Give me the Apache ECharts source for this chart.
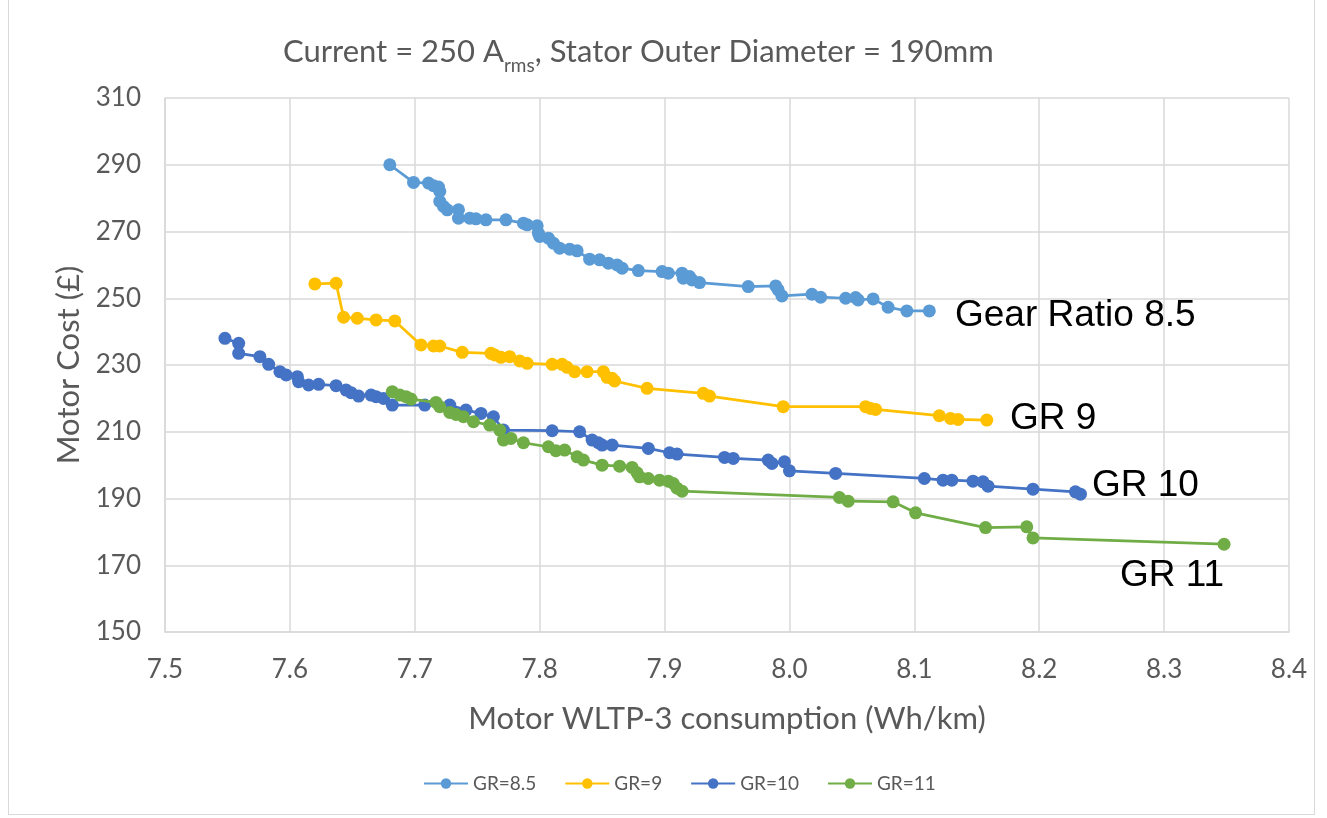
<!DOCTYPE html>
<html>
<head>
<meta charset="utf-8">
<script src="https://cdn.jsdelivr.net/npm/echarts@6/dist/echarts.min.js"></script>
<style>
  html, body { margin: 0; padding: 0; background: #ffffff; }
  #frame { position: absolute; left: 8px; top: -1px; width: 1307px; height: 816px; border: 1px solid #d9d9d9; box-sizing: border-box; }
  #chart { position: absolute; left: 0; top: 0; width: 1327px; height: 818px; }
</style>
</head>
<body>
<div id="frame"></div>
<div id="chart"></div>
<script>
// Motor WLTP-3 consumption (Wh/km) vs motor cost (£), one trace per gear ratio
const seriesNames = ['GR=8.5', 'GR=9', 'GR=10', 'GR=11'];
const xTicks = { min: 7.5, max: 8.4, step: 0.1 };
const yTicks = { min: 150, max: 310, step: 20 };

const gr85 = [
  [7.680, 290.0], [7.699, 284.7], [7.711, 284.5], [7.715, 283.7], [7.719, 283.3],
  [7.720, 282.0], [7.720, 279.0], [7.723, 277.5], [7.726, 276.5], [7.735, 276.5],
  [7.735, 274.0], [7.744, 274.0], [7.749, 273.8], [7.757, 273.5], [7.773, 273.5],
  [7.787, 272.5], [7.790, 272.0], [7.798, 271.7], [7.799, 269.5], [7.800, 268.5],
  [7.807, 268.0], [7.811, 266.5], [7.816, 265.0], [7.824, 264.7], [7.830, 264.2],
  [7.840, 261.7], [7.848, 261.5], [7.855, 260.5], [7.862, 260.0], [7.866, 259.0],
  [7.879, 258.3], [7.898, 258.0], [7.903, 257.5], [7.914, 257.5], [7.915, 256.0],
  [7.920, 256.5], [7.922, 255.5], [7.928, 254.7], [7.967, 253.5], [7.989, 253.7],
  [7.991, 252.5], [7.994, 250.7], [8.018, 251.2], [8.025, 250.3], [8.045, 250.0],
  [8.053, 250.2], [8.055, 249.5], [8.067, 249.8], [8.079, 247.3], [8.094, 246.2],
  [8.112, 246.2]
];

const gr9 = [
  [7.620, 254.3], [7.637, 254.5], [7.643, 244.3], [7.654, 244.0], [7.669, 243.5],
  [7.684, 243.2], [7.705, 236.0], [7.715, 235.7], [7.720, 235.7], [7.738, 233.8],
  [7.761, 233.5], [7.764, 233.0], [7.769, 232.3], [7.776, 232.5], [7.784, 231.2],
  [7.790, 230.5], [7.810, 230.2], [7.818, 230.2], [7.822, 229.3], [7.828, 228.0],
  [7.838, 228.0], [7.851, 228.0], [7.854, 226.3], [7.858, 226.0], [7.860, 225.2],
  [7.886, 223.0], [7.931, 221.5], [7.936, 220.7], [7.995, 217.5], [8.061, 217.5],
  [8.065, 217.0], [8.069, 216.7], [8.120, 214.8], [8.129, 214.0], [8.135, 213.7],
  [8.158, 213.5]
];

const gr10 = [
  [7.548, 238.0], [7.559, 236.5], [7.559, 233.5], [7.576, 232.5], [7.583, 230.2],
  [7.592, 228.0], [7.597, 227.0], [7.606, 226.5], [7.607, 225.0], [7.615, 224.0],
  [7.623, 224.2], [7.637, 223.8], [7.645, 222.5], [7.649, 221.7], [7.655, 220.7],
  [7.665, 221.0], [7.669, 220.5], [7.675, 220.0], [7.682, 218.0], [7.708, 218.0],
  [7.728, 218.0], [7.741, 216.5], [7.753, 215.5], [7.763, 214.5], [7.771, 210.5],
  [7.810, 210.3], [7.832, 210.0], [7.842, 207.5], [7.847, 206.7], [7.850, 206.0],
  [7.858, 206.0], [7.887, 205.0], [7.904, 203.7], [7.910, 203.3], [7.948, 202.3],
  [7.955, 202.0], [7.983, 201.5], [7.986, 200.5], [7.996, 201.0], [8.000, 198.3],
  [8.037, 197.5], [8.108, 196.0], [8.123, 195.5], [8.130, 195.5], [8.147, 195.2],
  [8.155, 195.0], [8.159, 193.7], [8.195, 192.8], [8.229, 192.0], [8.233, 191.3]
];

const gr11 = [
  [7.682, 222.0], [7.688, 221.0], [7.693, 220.5], [7.697, 219.8], [7.717, 218.8],
  [7.720, 217.5], [7.728, 215.8], [7.733, 215.2], [7.739, 214.5], [7.747, 213.0],
  [7.760, 212.0], [7.768, 210.5], [7.771, 207.5], [7.777, 208.0], [7.787, 206.7],
  [7.807, 205.5], [7.813, 204.3], [7.820, 204.5], [7.830, 202.5], [7.835, 201.5],
  [7.850, 200.0], [7.864, 199.7], [7.874, 199.3], [7.878, 197.7], [7.880, 196.5],
  [7.887, 196.0], [7.896, 195.5], [7.903, 195.2], [7.907, 194.5], [7.910, 193.1],
  [7.914, 192.2], [8.040, 190.3], [8.047, 189.2], [8.083, 189.0], [8.101, 185.7],
  [8.157, 181.3], [8.190, 181.5], [8.195, 178.2], [8.348, 176.3]
];

const seriesData = [gr85, gr9, gr10, gr11];
const seriesColors = ['#5B9BD5', '#FFC000', '#4472C4', '#70AD47'];
const curveLabels = ['Gear Ratio 8.5', 'GR 9', 'GR 10', 'GR 11'];
const curveLabelPos = [[955, 297], [1010, 400], [1092, 467], [1120, 557]];

const textFont = 'Lato, "Open Sans", sans-serif';
const greyText = '#595959';
const gridColor = '#d9d9d9';

const chart = echarts.init(document.getElementById('chart'), null, { renderer: 'canvas' });

chart.setOption({
  backgroundColor: 'transparent',
  animation: false,
  title: {
    text: '{m|Current = 250 A}{s|rms}{m|, Stator Outer Diameter = 190mm}',
    left: 278,
    top: 26,
    textStyle: {
      rich: {
        m: { fontFamily: textFont, fontSize: 31, color: greyText, fontWeight: 'normal', verticalAlign: 'bottom', lineHeight: 36 },
        s: { fontFamily: textFont, fontSize: 19, color: greyText, fontWeight: 'normal', verticalAlign: 'bottom', lineHeight: 28, padding: [0, 0, -8, 0] }
      }
    }
  },
  legend: {
    bottom: 20,
    left: 418,
    itemWidth: 44,
    itemHeight: 13,
    itemGap: 28,
    textStyle: { fontFamily: textFont, fontSize: 19, color: greyText },
    data: seriesNames
  },
  grid: { left: 165, right: 38, top: 98, bottom: 186, containLabel: false },
  xAxis: {
    type: 'value',
    min: xTicks.min,
    max: xTicks.max,
    interval: xTicks.step,
    name: 'Motor WLTP-3 consumption (Wh/km)',
    nameLocation: 'middle',
    nameGap: 71,
    nameTextStyle: { fontFamily: textFont, fontSize: 31, color: greyText },
    axisLine: { show: true, lineStyle: { color: gridColor, width: 1.5 } },
    axisTick: { show: false },
    axisLabel: { fontFamily: textFont, fontSize: 26, color: greyText, margin: 25, formatter: v => v.toFixed(1) },
    splitLine: { show: true, lineStyle: { color: gridColor, width: 1.5 } }
  },
  yAxis: {
    type: 'value',
    min: yTicks.min,
    max: yTicks.max,
    interval: yTicks.step,
    name: 'Motor Cost (£)',
    nameLocation: 'middle',
    nameGap: 80,
    nameTextStyle: { fontFamily: textFont, fontSize: 31, color: greyText },
    axisLine: { show: true, lineStyle: { color: gridColor, width: 1.5 } },
    axisTick: { show: false },
    axisLabel: { fontFamily: textFont, fontSize: 26, color: greyText, margin: 24 },
    splitLine: { show: true, lineStyle: { color: gridColor, width: 1.5 } }
  },
  series: seriesNames.map((name, i) => ({
    name: name,
    type: 'line',
    data: seriesData[i],
    symbol: 'circle',
    symbolSize: 13,
    showSymbol: true,
    color: seriesColors[i],
    lineStyle: { color: seriesColors[i], width: 2.75 },
    itemStyle: { color: seriesColors[i] },
    emphasis: { disabled: true },
    z: 2 + i
  })),
  graphic: curveLabels.map((t, i) => ({
    type: 'text',
    left: curveLabelPos[i][0],
    top: curveLabelPos[i][1],
    z: 100,
    style: { text: t, fontFamily: '"Liberation Sans", Arial, sans-serif', fontSize: 37, fill: '#000000' }
  }))
});
</script>
</body>
</html>
